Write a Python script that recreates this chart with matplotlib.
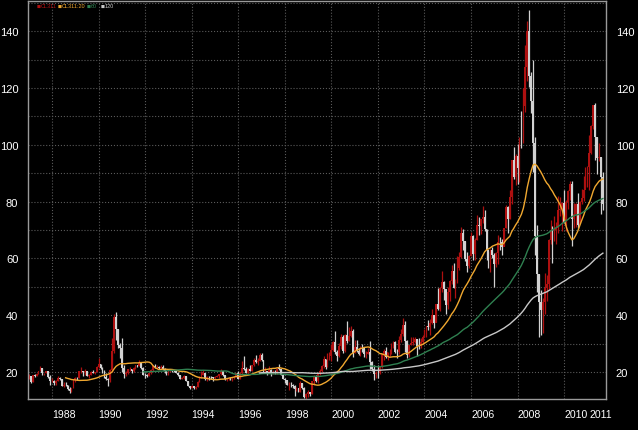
import numpy as np
import pandas as pd
import matplotlib
matplotlib.use("Agg")
from matplotlib import pyplot as plt
from matplotlib.ticker import FixedLocator

plt.rcParams['font.family'] = ['Liberation Sans', 'DejaVu Sans']

# monthly CL bars, Jan 1987 .. Sep 2011 (open = previous close)
first_open = 17.9
close = [
    18.6, 16.6, 18.8, 18.7, 19.4, 20.3, 21.4, 19.6, 19.6, 20.2, 18.2, 16.7,   # 1987
    17.0, 16.0, 16.9, 17.9, 17.4, 15.2, 15.6, 15.4, 14.0, 13.4, 14.2, 17.1,   # 1988
    18.0, 17.9, 20.3, 20.3, 19.9, 20.3, 18.7, 18.9, 20.1, 19.8, 19.9, 21.8,   # 1989
    22.7, 21.5, 20.3, 18.4, 17.4, 17.1, 20.7, 27.3, 39.5, 35.2, 29.5, 28.4,   # 1990
    21.5, 19.2, 19.6, 20.9, 21.2, 20.2, 21.4, 22.3, 22.2, 23.3, 21.5, 19.1,   # 1991
    18.9, 18.7, 19.5, 20.8, 22.1, 21.7, 21.9, 21.4, 21.9, 21.2, 20.3, 19.5,   # 1992
    20.3, 20.6, 20.4, 20.3, 19.8, 18.9, 17.7, 18.0, 18.6, 16.9, 15.2, 14.2,   # 1993
    15.2, 14.4, 14.8, 16.6, 18.2, 19.1, 19.7, 17.5, 18.4, 18.2, 18.1, 17.8,   # 1994
    18.4, 18.5, 19.2, 20.4, 18.9, 17.4, 17.6, 18.0, 17.6, 17.6, 18.2, 19.6,   # 1995
    17.7, 19.5, 21.5, 21.2, 19.8, 20.9, 20.4, 22.3, 24.4, 23.4, 23.8, 25.9,   # 1996
    24.2, 20.3, 20.4, 19.8, 20.8, 19.8, 20.1, 19.6, 21.2, 21.1, 19.1, 17.6,   # 1997
    17.2, 15.4, 15.6, 15.4, 15.2, 13.9, 14.2, 13.1, 16.1, 14.4, 11.2, 12.1,   # 1998
    12.8, 12.3, 16.8, 18.7, 16.8, 19.3, 20.5, 22.1, 24.5, 21.8, 24.6, 25.6,   # 1999
    27.6, 30.4, 26.9, 25.7, 29.0, 32.5, 27.4, 33.1, 30.8, 32.7, 34.4, 26.8,   # 2000
    28.7, 27.4, 26.3, 28.5, 28.4, 26.3, 26.4, 27.2, 23.4, 21.2, 19.4, 19.8,   # 2001
    19.5, 21.7, 26.3, 27.3, 25.3, 26.9, 27.0, 28.9, 30.5, 27.2, 26.9, 31.2,   # 2002
    33.5, 36.6, 31.0, 26.0, 29.6, 30.2, 30.5, 31.6, 29.2, 29.1, 30.4, 32.5,   # 2003
    33.1, 36.2, 35.8, 37.4, 39.9, 37.1, 43.8, 42.1, 49.6, 51.8, 49.1, 43.5,   # 2004
    48.2, 52.0, 55.4, 49.7, 52.0, 56.5, 60.6, 68.9, 66.2, 59.8, 57.3, 61.0,   # 2005
    67.9, 61.4, 66.6, 71.9, 71.3, 73.9, 74.4, 70.3, 62.9, 58.7, 63.1, 61.1,   # 2006
    58.1, 61.8, 65.9, 65.7, 64.0, 70.7, 78.2, 74.0, 81.7, 94.5, 88.7, 96.0,   # 2007
    91.8, 101.8, 101.6, 113.5, 127.4, 140.0, 124.1, 115.5, 100.6, 67.8, 54.4, 44.6,  # 2008
    41.7, 44.8, 49.7, 51.1, 66.3, 69.9, 69.5, 70.0, 70.6, 77.0, 77.3, 79.4,   # 2009
    72.9, 79.7, 83.8, 86.2, 74.0, 75.6, 79.0, 71.9, 80.0, 81.4, 84.1, 91.4,   # 2010
    92.2, 97.0, 106.7, 113.9, 102.7, 95.4, 95.7, 88.8, 79.2,                  # 2011
]
high = [
    19.2, 18.6, 18.9, 19.2, 19.6, 20.4, 22.2, 21.5, 19.8, 20.4, 19.8, 18.9,
    17.8, 17.2, 17.1, 18.6, 18.2, 17.4, 16.5, 16.4, 15.4, 14.6, 14.4, 17.3,
    18.4, 18.4, 20.5, 21.7, 20.5, 21.0, 20.4, 19.2, 20.3, 20.6, 20.1, 22.1,
    24.9, 22.7, 21.6, 20.6, 19.6, 17.8, 21.1, 31.9, 40.4, 41.2, 35.1, 30.1,
    32.0, 22.4, 20.5, 21.0, 21.8, 21.2, 21.7, 22.6, 22.5, 24.3, 23.3, 21.6,
    19.5, 19.4, 19.6, 21.0, 22.3, 22.9, 22.4, 22.0, 22.5, 22.3, 21.3, 20.2,
    20.4, 20.8, 20.9, 20.7, 20.4, 19.9, 18.9, 18.4, 18.9, 18.7, 17.0, 15.2,
    15.6, 15.2, 15.1, 16.9, 18.5, 20.3, 20.7, 19.7, 18.6, 18.7, 18.7, 18.3,
    18.6, 18.8, 19.3, 21.0, 20.4, 19.0, 17.9, 18.4, 18.1, 17.9, 18.5, 19.8,
    20.3, 19.9, 23.8, 25.8, 21.9, 21.5, 22.4, 22.5, 25.0, 25.9, 24.9, 26.6,
    26.6, 24.3, 21.9, 20.5, 22.1, 20.9, 20.6, 20.6, 21.3, 22.9, 21.1, 19.4,
    18.0, 17.2, 16.5, 16.4, 15.9, 15.4, 14.6, 14.2, 16.9, 16.3, 14.8, 12.6,
    13.5, 12.9, 16.9, 18.9, 18.8, 19.4, 20.9, 22.6, 25.8, 24.7, 26.6, 27.2,
    30.0, 31.0, 34.4, 27.7, 30.2, 33.4, 33.0, 33.4, 37.8, 35.9, 36.1, 35.0,
    31.3, 31.1, 28.6, 29.2, 29.8, 28.5, 27.4, 28.6, 31.0, 23.8, 22.3, 20.2,
    22.5, 21.9, 26.4, 28.0, 28.8, 27.0, 28.2, 30.3, 31.0, 30.8, 28.2, 32.7,
    35.0, 39.1, 38.1, 31.3, 29.6, 32.3, 32.2, 32.5, 31.6, 31.9, 32.0, 33.2,
    35.2, 36.2, 38.4, 38.5, 42.3, 40.0, 43.8, 49.4, 49.9, 55.7, 52.2, 46.4,
    49.9, 52.3, 57.6, 58.3, 52.9, 60.9, 62.3, 70.9, 70.3, 66.2, 62.1, 61.3,
    69.2, 68.3, 67.2, 75.4, 74.7, 74.0, 78.4, 77.0, 70.5, 62.7, 63.2, 64.1,
    61.8, 62.2, 68.1, 67.4, 66.7, 70.8, 78.8, 78.3, 83.9, 94.7, 99.3, 96.8,
    100.1, 102.6, 111.8, 119.9, 135.1, 143.7, 147.3, 125.7, 130.0, 102.6, 71.6, 54.6,
    49.0, 45.9, 54.7, 54.2, 66.7, 73.4, 71.5, 75.0, 72.8, 82.0, 81.5, 80.0,
    84.0, 80.5, 83.9, 87.1, 87.2, 79.4, 79.5, 82.9, 80.1, 84.4, 89.0, 92.1,
    92.6, 103.4, 106.9, 114.0, 114.8, 102.6, 100.6, 95.8, 90.5,
]
low = [
    17.5, 16.3, 16.6, 18.2, 18.6, 19.3, 20.2, 19.0, 19.0, 19.5, 18.0, 15.6,
    16.5, 15.6, 15.4, 16.8, 17.2, 15.1, 14.6, 15.1, 13.7, 12.6, 13.0, 14.2,
    16.6, 17.2, 17.8, 19.8, 18.6, 19.0, 18.6, 18.0, 18.9, 19.5, 19.3, 19.9,
    21.3, 21.0, 19.6, 17.9, 17.1, 15.1, 16.4, 20.0, 26.6, 31.2, 28.6, 24.9,
    20.0, 17.8, 18.6, 19.2, 20.3, 19.8, 20.1, 21.1, 21.6, 22.0, 21.0, 18.9,
    17.8, 18.4, 18.5, 19.4, 20.4, 21.5, 21.3, 20.9, 21.2, 20.6, 19.8, 19.0,
    18.9, 19.9, 19.9, 19.9, 19.5, 18.5, 17.4, 17.5, 17.5, 16.8, 15.0, 13.9,
    14.2, 14.0, 14.0, 14.7, 16.5, 17.9, 18.9, 17.3, 16.9, 17.1, 17.6, 16.8,
    17.6, 18.1, 18.0, 19.1, 18.5, 17.2, 16.9, 17.3, 17.2, 17.0, 17.5, 18.1,
    17.4, 17.4, 19.4, 20.8, 19.5, 19.2, 20.2, 20.5, 22.0, 23.3, 22.6, 23.8,
    23.8, 20.1, 19.9, 19.0, 19.7, 18.6, 19.2, 19.3, 19.3, 20.6, 19.0, 17.4,
    16.1, 15.3, 13.6, 14.8, 14.3, 11.4, 13.4, 12.9, 13.1, 14.0, 11.0, 10.4,
    11.3, 11.7, 12.1, 15.6, 16.6, 16.0, 18.8, 20.0, 21.5, 21.0, 21.6, 24.1,
    24.0, 27.4, 26.2, 24.0, 25.2, 28.0, 26.7, 27.0, 30.3, 30.8, 32.2, 25.3,
    26.6, 26.9, 25.9, 25.8, 26.9, 25.4, 24.9, 26.2, 21.0, 20.2, 17.2, 17.8,
    17.9, 19.3, 21.4, 24.2, 25.0, 24.4, 25.7, 26.5, 28.6, 26.8, 25.0, 26.4,
    30.6, 32.6, 27.0, 25.1, 25.3, 29.4, 29.6, 30.3, 25.6, 28.0, 28.6, 29.9,
    32.2, 32.5, 34.9, 33.1, 37.0, 35.4, 37.6, 42.0, 41.6, 48.2, 45.2, 40.3,
    42.1, 45.1, 50.9, 49.4, 46.2, 51.2, 56.0, 60.2, 62.8, 59.2, 55.3, 56.6,
    61.0, 59.4, 59.5, 66.5, 68.4, 68.6, 72.6, 69.7, 59.5, 56.6, 55.3, 60.3,
    49.9, 56.8, 58.1, 62.9, 61.1, 64.3, 70.6, 69.0, 73.9, 79.0, 88.0, 85.9,
    86.1, 86.9, 98.7, 100.6, 111.5, 122.3, 120.4, 111.3, 90.5, 61.3, 48.3, 32.4,
    33.2, 33.6, 40.3, 45.0, 49.3, 65.0, 58.3, 66.0, 65.0, 69.0, 75.0, 69.5,
    72.4, 69.5, 77.3, 80.5, 64.2, 70.8, 71.1, 70.8, 72.6, 79.0, 80.3, 85.3,
    85.1, 84.1, 96.7, 105.5, 94.6, 89.6, 94.2, 75.7, 77.1,
]
years = ['1988', '1990', '1992', '1994', '1996', '1998', '2000',
         '2002', '2004', '2006', '2008', '2010', '2011']
ma_windows = [20, 60, 120]
legend_items = ['CL311', 'CL311:20', '60', '120']

c = np.array(close)
o = np.concatenate([[first_open], c[:-1]])
h = np.array(high)
l = np.array(low)
idx = np.arange(len(c))

up_col = '#ae1010'
dn_col = '#d2d2d2'
ma_cols = ['#f0a830', '#2f8050', '#c8c8c8']

fig = plt.figure(figsize=(6.38, 4.31), dpi=100, facecolor='black')
ax = fig.add_axes([28 / 638, 1 - 400 / 431, 578 / 638, 398 / 431])
ax.set_facecolor('black')

cols = np.where(c >= o, up_col, dn_col)
ax.vlines(idx, l, h, colors=cols, linewidth=0.9, zorder=2)
body = np.maximum(np.abs(c - o), 0.15)
ax.bar(idx, body, bottom=np.minimum(o, c), width=0.9, color=cols,
       linewidth=0, zorder=2)

s = pd.Series(c)
for w, col in zip(ma_windows, ma_cols):
    ax.plot(idx, s.rolling(w).mean(), color=col, linewidth=1.0, zorder=3)

ax.set_xlim(-0.4, 297.6)
ax.set_ylim(10.5, 150.6)

# x labels at January, left-aligned on the 2-year grid
tick_pos = [12 + 24 * k for k in range(12)] + [289]
ax.set_xticks(tick_pos)
ax.set_xticklabels(years, ha='left')
ax.xaxis.set_minor_locator(FixedLocator([12 + 24 * k for k in range(12)]))
ax.set_yticks(np.arange(20, 141, 20))
ax.yaxis.set_minor_locator(FixedLocator(np.arange(20, 151, 10)))
ax.xaxis.remove_overlapping_locs = False
ax.yaxis.remove_overlapping_locs = False
ax.tick_params(axis='both', which='both', length=0, colors='white',
               labelsize=8)
ax.tick_params(axis='y', labelleft=True, labelright=True, pad=7)
ax.tick_params(axis='x', pad=7, labelsize=7.6)
ax.grid(which='minor', color='#5a5a5a', linestyle=':', linewidth=0.8)
ax.set_axisbelow(True)
for sp in ax.spines.values():
    sp.set_color('#9a9a9a')
    sp.set_linewidth(1.0)

# tiny legend at top-left
leg_cols = [up_col, ma_cols[0], ma_cols[1], ma_cols[2]]
xpos = [37, 58, 87, 101]
for x0, name, col in zip(xpos, legend_items, leg_cols):
    fig.text(x0 / 638, 1 - 7 / 431, '\u25a0', color=col, fontsize=3.0,
             va='center', ha='left', family='DejaVu Sans')
    fig.text((x0 + 3.5) / 638, 1 - 7 / 431, name, color=col, fontsize=4.0,
             va='center', ha='left')

fig.savefig('out.png', dpi=100, facecolor='black')
